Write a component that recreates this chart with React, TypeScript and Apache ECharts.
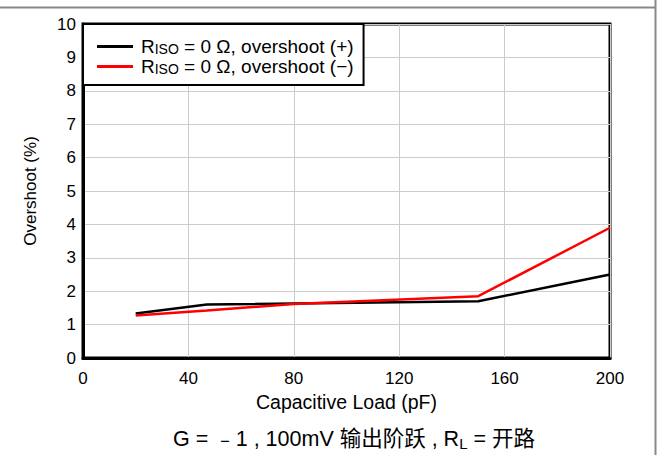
import React, { useEffect, useRef } from "react";
import * as echarts from "echarts";

const plusX = [20, 47, 150, 200];
const plusY = [1.33, 1.6, 1.7, 2.5];
const minusX = [20, 47, 80, 150, 200];
const minusY = [1.27, 1.42, 1.62, 1.85, 3.9];
const xTicks = [0, 40, 80, 120, 160, 200];
const yTicks = [0, 1, 2, 3, 4, 5, 6, 7, 8, 9, 10];
const seriesNames = ["RISO = 0 Ω, overshoot (+)", "RISO = 0 Ω, overshoot (−)"];
const seriesColors = ["#000000", "#ff0000"];

export default function App() {
  const ref = useRef<HTMLDivElement>(null);
  useEffect(() => {
    if (!ref.current) return;
    const chart = echarts.init(ref.current, null, { renderer: "svg" });
    const font = "'Liberation Sans', Arial, sans-serif";
    const toPairs = (xs: number[], ys: number[]) => xs.map((x, i) => [x, ys[i]]);
    chart.setOption({
      animation: false,
      backgroundColor: "#ffffff",
      textStyle: { fontFamily: font },
      grid: {
        left: 83,
        right: 50,
        top: 24,
        bottom: 97,
        show: true,
        borderColor: "#000",
        borderWidth: 3,
        backgroundColor: "transparent",
      },
      title: {
        text: "{a|G = ﹣1 , 100mV 输出阶跃 , R}{s|L}{a| = 开路}",
        left: 349,
        textAlign: "center",
        top: 422,
        textStyle: {
          fontWeight: "normal",
          rich: {
            a: { fontSize: 21.5, color: "#000", fontWeight: "normal", fontFamily: font + ", 'Noto Sans CJK SC'" },
            s: { fontSize: 15, color: "#000", fontWeight: "normal", fontFamily: font, verticalAlign: "bottom", padding: [9, 0, 0, 0] },
          },
        },
      },
      legend: {
        orient: "vertical",
        left: 83,
        top: 24,
        padding: [12, 10, 9, 14],
        itemGap: 0,
        itemWidth: 36,
        itemHeight: 3,
        icon: "rect",
        backgroundColor: "#fff",
        borderColor: "#000",
        borderWidth: 2,
        data: seriesNames,
        formatter: (name: string) => {
          const rest = name.replace("RISO", "");
          return "{f|R}{s|ISO}{r|" + rest + "}";
        },
        textStyle: {
          rich: {
            f: { fontSize: 19, color: "#000", fontFamily: font, lineHeight: 19, padding: [0, 0, 0, 3] },
            r: { fontSize: 19, color: "#000", fontFamily: font, lineHeight: 19 },
            s: { fontSize: 14, color: "#000", fontFamily: font, lineHeight: 13, padding: [6, 0, 0, 0], verticalAlign: "bottom" },
          },
        },
      },
      xAxis: {
        type: "value",
        min: 0,
        max: 200,
        interval: 40,
        name: "Capacitive Load (pF)",
        nameLocation: "middle",
        nameGap: 34,
        nameTextStyle: { fontSize: 19.5, color: "#000", fontFamily: font },
        axisLine: { lineStyle: { color: "#000", width: 3 } },
        axisTick: { show: false },
        axisLabel: { fontSize: 17, color: "#000", margin: 12, fontFamily: font, customValues: xTicks },
        splitLine: { lineStyle: { color: "#cccccc", width: 1 } },
      },
      yAxis: {
        type: "value",
        min: 0,
        max: 10,
        interval: 1,
        name: "Overshoot (%)",
        nameLocation: "middle",
        nameGap: 44,
        nameTextStyle: { fontSize: 17, color: "#000", fontFamily: font },
        axisLine: { lineStyle: { color: "#000", width: 3 } },
        axisTick: { show: false },
        axisLabel: { fontSize: 17, color: "#000", margin: 7, fontFamily: font, customValues: yTicks },
        splitLine: { lineStyle: { color: "#cccccc", width: 1 } },
      },
      series: [
        {
          name: seriesNames[0],
          type: "line",
          data: toPairs(plusX, plusY),
          symbol: "none",
          lineStyle: { color: seriesColors[0], width: 2.5 },
          itemStyle: { color: seriesColors[0] },
          z: 3,
        },
        {
          name: seriesNames[1],
          type: "line",
          data: toPairs(minusX, minusY),
          symbol: "none",
          lineStyle: { color: seriesColors[1], width: 2.5 },
          itemStyle: { color: seriesColors[1] },
          z: 4,
        },
      ],
      graphic: [
        { type: "line", shape: { x1: 0, y1: 7.5, x2: 655, y2: 7.5 }, style: { stroke: "#888", lineWidth: 2 } },
        { type: "line", shape: { x1: 655.5, y1: 0, x2: 655.5, y2: 455 }, style: { stroke: "#888", lineWidth: 2 } },
      ],
    });
    return () => chart.dispose();
  }, []);
  return (
    <div
      ref={ref}
      style={{ position: "fixed", left: 0, top: 0, width: 660, height: 455 }}
    />
  );
}
